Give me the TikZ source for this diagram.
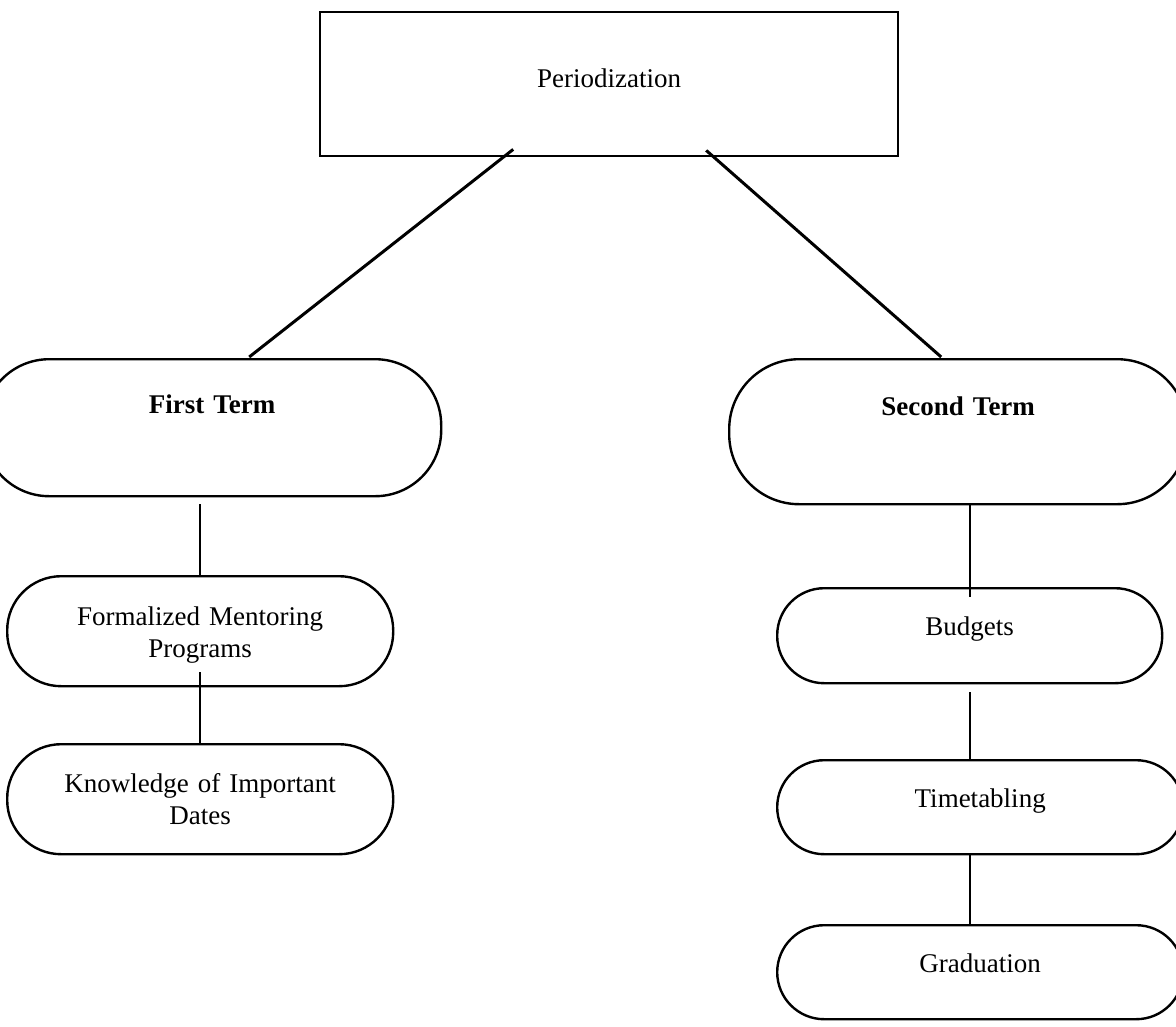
\documentclass[tikz,border=0pt]{standalone}
\usepackage{fontspec}
\setmainfont{Liberation Serif}
\begin{document}
\begin{tikzpicture}[x=1pt,y=-1pt,
  box/.style={draw, line width=2.4pt, inner sep=0pt, align=center,
    anchor=north west, font=\fontsize{27}{32}\selectfont},
  pill/.style={box, rounded corners=#1},
  slant/.style={line width=3pt},
  stem/.style={line width=2.2pt}]
\useasboundingbox (0,0) rectangle (1176,1026);
\clip (0,0) rectangle (1176,1026);

% root
\node[box, text width=578pt, text height=75pt, text depth=69pt] (P) at (319,11) {Periodization};

% terms
\node[pill=66pt, text width=458pt, text height=54pt, text depth=83pt, font=\fontsize{27}{32}\selectfont\bfseries] (FT) at (-18,358) {First Term};
\node[pill=70pt, text width=458pt, text height=56pt, text depth=89pt, font=\fontsize{27}{32}\selectfont\bfseries] (ST) at (728,358) {Second Term};

% first term items
\node[pill=54pt, text width=386pt, text height=49pt, text depth=61pt] (FM) at (6,575) {Formalized Mentoring\\Programs};
\node[pill=54pt, text width=386pt, text height=48pt, text depth=62pt] (KN) at (6,743) {Knowledge of Important\\Dates};

% second term items
\node[pill=47pt, text width=385pt, text height=47pt, text depth=48pt] (BU) at (776,587) {Budgets};
\node[pill=47pt, text width=406pt, text height=47pt, text depth=47pt] (TT) at (776,759) {Timetabling};
\node[pill=47pt, text width=406pt, text height=47pt, text depth=47pt] (GR) at (776,924) {Graduation};

% connectors
\draw[slant] ([xshift=-96pt,yshift=8pt]P.south) -- ([xshift=37pt,yshift=1pt]FT.north);
\draw[slant] ([xshift=97pt,yshift=7pt]P.south) -- ([xshift=-17pt,yshift=1pt]ST.north);

\draw[stem] ([yshift=-7pt]FM.north |- FT.south) -- (FM.north);
\draw[stem] ([yshift=15pt]FM.south) -- (KN.north);

\draw[stem] (BU.north |- ST.south) -- ([yshift=-10pt]BU.north);
\draw[stem] ([yshift=-8pt]BU.south) -- (BU.south |- TT.north);
\draw[stem] (BU.south |- TT.south) -- (BU.south |- GR.north);
\end{tikzpicture}
\end{document}
